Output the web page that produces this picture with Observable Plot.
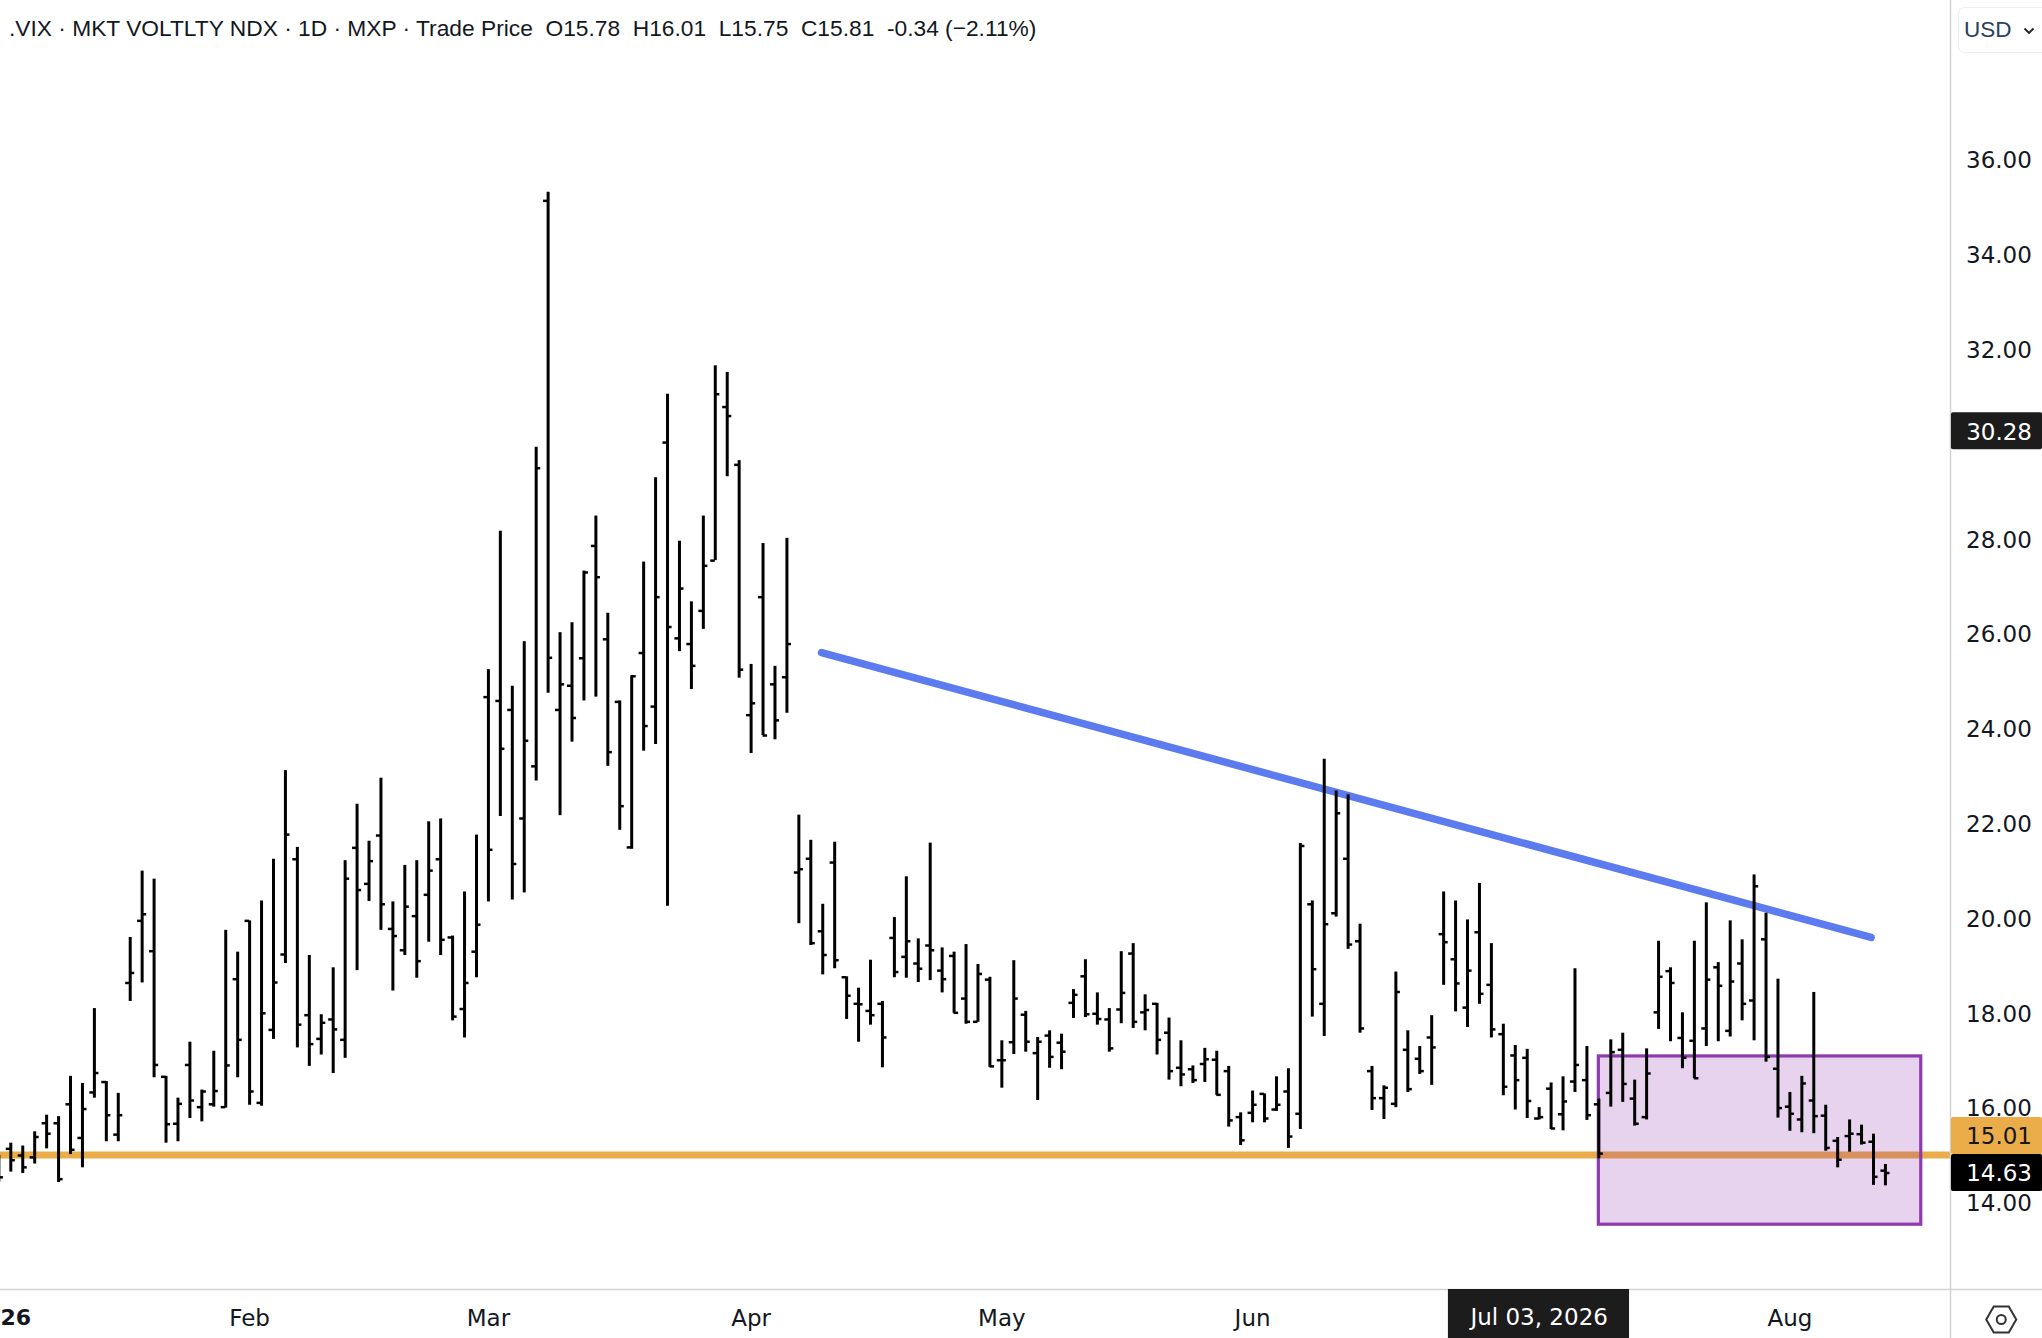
<!DOCTYPE html>
<html>
<head>
<meta charset="utf-8">
<script src="https://cdn.jsdelivr.net/npm/d3@7"></script>
<script src="https://cdn.jsdelivr.net/npm/@observablehq/plot@0.6"></script>
<style>
html,body{margin:0;padding:0;background:#fff;overflow:hidden}
#wrap{position:relative;width:2042px;height:1338px}
#wrap svg.plot{display:block}
#head{position:absolute;left:9px;top:15px;font:22.75px "Liberation Sans",Arial,sans-serif;color:#131722;white-space:pre}
#usd{position:absolute;left:1958px;top:7px;width:84px;height:46px;box-sizing:border-box;border:1.5px solid #eceff2;border-right:0;border-radius:7px 0 0 7px;background:#fff;font:22.5px "Liberation Sans",Arial,sans-serif;color:#2a3f5f;line-height:43px;padding-left:5px}
#usd svg{position:absolute;left:64px;top:19px}
</style>
</head>
<body>
<div id="wrap">
<div id="head"></div>
<div id="usd">USD<svg width="12" height="8" viewBox="0 0 12 8"><path d="M1.5 1.5 L6 6 L10.5 1.5" fill="none" stroke="#222" stroke-width="1.8"/></svg></div>
</div>
<script>
const headerText = ".VIX · MKT VOLTLTY NDX · 1D · MXP · Trade Price  O15.78  H16.01  L15.75  C15.81  -0.34 (−2.11%)";

const open = [14.86,15.14,15.00,14.96,15.68,15.68,16.08,15.37,16.33,16.55,
15.44,18.64,19.95,19.31,16.66,15.67,16.91,16.02,16.08,16.02,
18.72,19.95,16.11,17.65,19.24,21.25,17.96,17.46,17.87,17.44,
21.49,20.73,21.75,19.78,19.33,20.05,20.50,21.25,19.60,18.09,
19.30,24.67,24.59,24.40,22.11,23.21,35.14,24.40,24.91,25.49,
27.86,25.89,24.57,21.50,25.60,24.47,30.04,25.91,25.79,26.49,
27.55,30.79,29.57,24.29,26.78,24.94,25.09,20.97,21.26,19.73,
21.18,18.76,18.20,18.05,18.20,19.59,19.19,19.05,19.43,18.90,
19.21,18.31,17.82,18.71,17.01,17.39,17.97,17.16,17.53,17.38,
18.22,18.78,17.99,17.87,18.08,19.26,18.02,18.20,17.59,16.85,
16.82,16.93,17.02,16.78,15.81,15.90,16.30,15.97,16.35,15.88,
20.30,18.20,20.11,21.26,19.52,16.78,16.21,16.09,17.23,17.04,
17.49,19.67,19.14,18.12,19.71,18.60,17.56,17.11,17.06,15.78,
16.41,15.87,16.56,16.59,16.08,16.32,17.23,16.20,15.81,18.02,
18.89,17.48,17.42,17.68,18.97,17.63,19.05,18.27,19.56,16.83,
16.03,15.76,16.16,15.84,15.31,15.41,15.45,15.29,14.68];

const high = [15.00,15.26,15.20,15.50,15.85,15.82,16.67,16.52,18.10,16.56,
16.31,19.60,21.00,20.83,16.67,16.21,17.39,16.38,17.20,19.75,
19.29,19.95,20.37,21.25,23.12,21.50,19.22,17.97,18.96,21.22,
22.41,21.63,22.96,20.35,21.12,21.22,22.04,22.10,19.63,20.56,
21.76,25.25,28.17,24.90,25.84,29.94,35.32,26.03,26.24,27.33,
28.49,26.44,24.59,25.12,27.52,29.30,31.06,27.96,26.68,28.49,
31.66,31.52,29.66,25.36,27.91,25.32,28.02,22.18,21.65,20.30,
21.61,18.77,18.53,19.12,18.25,20.02,20.88,19.57,21.59,19.38,
19.29,19.45,19.03,18.76,17.42,19.11,18.04,17.49,17.63,17.56,
18.50,19.13,18.43,18.10,19.30,19.47,18.39,18.21,17.90,17.42,
16.89,17.26,17.20,16.88,15.90,16.36,16.30,16.66,16.83,21.58,
20.37,23.36,22.69,22.61,19.88,16.88,16.47,18.87,17.63,17.30,
17.95,20.56,20.37,19.97,20.74,19.47,17.77,17.32,17.24,16.01,
16.53,16.66,18.94,17.30,16.19,17.44,17.58,16.59,17.25,19.52,
18.96,18.01,19.52,20.33,19.07,19.95,19.55,20.92,20.11,18.72,
16.33,16.67,18.44,16.06,15.38,15.75,15.64,15.45,14.81];

const low = [14.44,14.65,14.62,14.82,15.14,14.43,15.02,14.74,16.21,15.29,
15.29,18.25,18.64,16.64,15.26,15.29,15.78,15.71,16.02,16.00,
16.64,16.06,16.04,17.45,19.05,17.27,16.88,17.12,16.73,17.05,
18.90,20.36,19.75,18.47,19.22,18.74,19.50,19.22,17.84,17.48,
18.75,20.35,22.15,20.39,20.54,22.90,24.75,22.17,23.72,24.59,
24.67,23.21,21.86,21.46,23.53,23.67,20.26,25.63,24.83,26.10,
27.55,29.32,25.07,23.48,23.86,23.77,24.33,19.89,19.43,18.81,
18.94,17.87,17.39,17.75,16.85,18.75,18.74,18.65,18.69,18.43,
18.00,17.77,17.81,16.86,16.42,17.13,17.18,16.16,16.84,16.81,
17.89,17.91,17.75,17.18,17.78,17.68,17.63,17.12,16.59,16.45,
16.52,16.54,16.27,15.60,15.21,15.69,15.69,15.93,15.15,15.55,
17.92,17.51,20.03,19.35,17.58,15.95,15.76,16.01,16.33,16.71,
16.48,18.59,18.03,17.70,18.19,17.48,16.26,15.96,15.78,15.75,
15.55,15.52,16.33,15.74,14.93,16.02,16.12,15.62,15.75,17.66,
17.40,16.83,16.62,17.30,17.40,17.50,17.84,17.42,16.97,15.79,
15.51,15.48,15.46,15.09,14.74,15.07,15.22,14.37,14.36];

const close = [14.54,14.90,14.75,15.39,15.46,14.50,15.12,15.98,16.74,15.85,
15.85,18.85,20.09,16.91,15.66,16.09,16.16,16.35,16.36,16.90,
17.44,16.35,18.00,18.65,21.77,17.76,17.35,17.80,17.66,20.84,
20.60,21.21,20.30,19.63,20.25,19.10,21.01,19.55,17.93,18.64,
19.87,21.45,23.58,21.15,23.75,29.50,25.50,24.94,24.23,27.30,
27.20,23.51,22.37,25.11,24.06,26.78,26.15,26.96,25.33,27.44,
31.06,30.60,25.25,24.54,23.86,24.18,25.79,21.04,19.48,19.23,
19.12,18.37,18.19,17.96,17.49,18.87,19.52,18.94,19.33,18.72,
18.01,17.82,18.83,16.88,17.01,18.31,17.40,17.40,17.08,17.19,
18.39,17.98,17.88,17.26,18.43,17.82,18.07,17.44,16.78,16.71,
16.59,17.03,16.28,15.74,15.32,16.07,15.78,16.07,15.40,21.53,
18.93,19.88,22.22,19.45,17.68,16.21,16.43,18.45,16.40,16.78,
17.28,19.50,18.63,18.90,18.41,17.66,16.45,16.59,16.15,15.81,
15.57,16.14,16.91,15.85,15.04,17.18,16.51,15.67,16.73,18.77,
18.64,17.06,16.63,18.71,18.58,18.67,18.20,20.68,17.08,16.00,
15.88,16.52,15.83,15.16,14.91,15.46,15.27,14.55,14.63];

const priceTicks = [14,16,18,20,22,24,26,28,32,34,36];
const monthTicks = [21,41,63,84,105,150];
const monthNames = ["Feb","Mar","Apr","May","Jun","Aug"];
const yearTick = [0.14];
const yearName = ["2026"];
const crosshairTick = [129];
const crosshairName = ["Jul 03, 2026"];

const trendBar = [68.9,156.8];
const trendPrice = [25.61,19.60];
const supportPrice = [15.01];
const boxBars = [134,161];
const boxPrices = [13.54,17.09];

const tagLabels = ["30.28","15.01","14.63"];
const tagCentres = [30.28,15.41,14.63];
const tagFills = ["#1c1c1c","#ebad4a","#000000"];
const tagInks = ["#ffffff","#131722","#ffffff"];

const xDomain = [0.137,163.45];
const yDomain = [12.173,39.367];
const xEnd = 171.16;
const yFloor = 11.139;
const tagStart = 163.53;
const tagTextAt = 164.76;
const chTag = [121.4,136.57];
const labelRow = 11.58;
const gearAt = [167.7,11.54];
const tagHalf = 0.39;

const bars = open.map((o,i)=>({i,o,h:high[i],l:low[i],c:close[i]}));
const tags = tagLabels.map((t,i)=>({t,y:tagCentres[i],fill:tagFills[i],ink:tagInks[i]}));
const trend = trendBar.map((x,i)=>({x,y:trendPrice[i]}));

document.getElementById("head").textContent = headerText;

const font = '"DejaVu Sans", Verdana, sans-serif';
const chart = Plot.plot({
  width:2042,height:1338,
  marginTop:0,marginLeft:0,marginRight:92,marginBottom:49,
  style:{fontFamily:font,fontSize:"23px",background:"#fff",color:"#131722"},
  x:{domain:xDomain},
  y:{domain:yDomain},
  marks:[
    Plot.ruleY(supportPrice,{x1:xDomain[0],x2:xDomain[1],stroke:"#ebad4a",strokeWidth:7}),
    Plot.rect([0],{x1:boxBars[0],x2:boxBars[1],y1:boxPrices[0],y2:boxPrices[1],fill:"#8e24aa",fillOpacity:0.2,stroke:"#8e3bae",strokeWidth:3.2}),
    Plot.line(trend,{x:"x",y:"y",stroke:"#5b7bee",strokeWidth:7.5,strokeLinecap:"round"}),
    Plot.ruleX(bars,{x:"i",y1:"l",y2:"h",stroke:"#000",strokeWidth:3}),
    Plot.ruleY(bars,{y:"o",x1:d=>d.i-0.38,x2:"i",stroke:"#000",strokeWidth:2.5}),
    Plot.ruleY(bars,{y:"c",x1:"i",x2:d=>d.i+0.38,stroke:"#000",strokeWidth:2.5}),
    Plot.ruleX([xDomain[1]],{y1:yFloor,y2:yDomain[1],stroke:"#d3d3d3",strokeWidth:1.5}),
    Plot.ruleY([yDomain[0]],{x1:xDomain[0],x2:xEnd,stroke:"#d3d3d3",strokeWidth:1.5}),
    Plot.axisY(priceTicks,{anchor:"right",tickSize:0,tickPadding:15.5,dy:1,tickFormat:d3.format(".2f"),label:null,fontSize:23}),
    Plot.axisX(monthTicks,{anchor:"bottom",tickSize:0,tickPadding:20,tickFormat:d=>monthNames[monthTicks.indexOf(d)],label:null,fontSize:23}),
    Plot.text(yearName,{x:yearTick,y:[labelRow],text:d=>d,fontWeight:"bold",fontSize:22,fill:"#131722"}),
    Plot.rect(tags,{x1:tagStart,x2:xEnd,y1:d=>d.y-tagHalf,y2:d=>d.y+tagHalf,fill:"fill",rx:2}),
    Plot.text(tags,{x:tagTextAt,y:"y",text:"t",fill:"ink",textAnchor:"start",fontSize:23,dy:1}),
    Plot.rect([0],{x1:chTag[0],x2:chTag[1],y1:yFloor,y2:yDomain[0],fill:"#1c1c1c"}),
    Plot.text(crosshairName,{x:crosshairTick,y:[labelRow],text:d=>d,fill:"#fff",fontSize:23}),
    Plot.dot([0],{x:gearAt[0],y:gearAt[1],symbol:"hexagon",r:13,rotate:90,stroke:"#333",strokeWidth:2,fill:"none"}),
    Plot.dot([0],{x:gearAt[0],y:gearAt[1],r:4.5,stroke:"#333",strokeWidth:2,fill:"none"})
  ]
});
document.getElementById("wrap").prepend(chart);
</script>
</body>
</html>
